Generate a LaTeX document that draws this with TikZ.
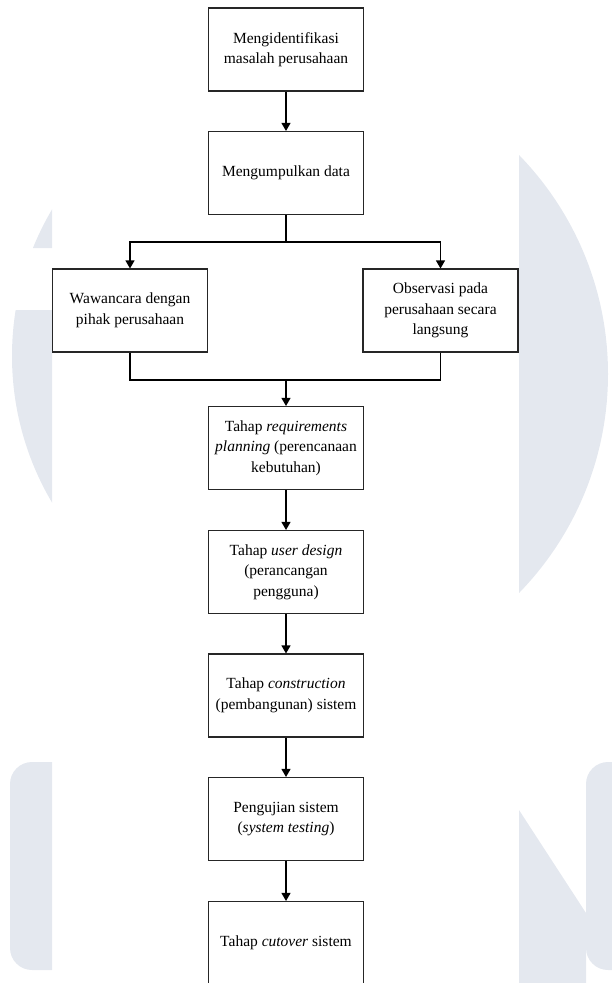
\documentclass[tikz,border=0pt]{standalone}
\usepackage{fontspec}
\setmainfont{Liberation Serif}
\usetikzlibrary{arrows.meta}
\definecolor{wm}{RGB}{228,232,239}
\begin{document}
\begin{tikzpicture}[x=1pt,y=-1pt,
  box/.style={draw=black!85, line width=1.1pt, fill=white, minimum width=155pt, minimum height=83pt,
    inner sep=0pt, align=center, font=\fontsize{15.5}{20.5}\selectfont},
  conn/.style={line width=1.1pt, draw=black},
  arr/.style={conn, -{Triangle[length=8pt,width=9pt]}}]
\useasboundingbox (0,0) rectangle (612,983);
% watermark
\begin{scope}
  \clip (519,0) rectangle (612,983);
  \fill[wm] (294,374) circle[radius=314pt];
\end{scope}
\begin{scope}
  \clip (0,0) rectangle (52,248) (0,310) rectangle (52,983);
  \fill[wm] (300,356) circle[radius=288pt];
\end{scope}
\begin{scope}
  \clip (0,0) rectangle (52,983);
  \fill[wm, rounded corners=22pt] (10,762) rectangle (90,970);
\end{scope}
\begin{scope}
  \clip (519,0) rectangle (612,983);
  \fill[wm, rounded corners=22pt] (586,762) rectangle (660,970);
  \fill[wm] (519,810) -- (586,913) -- (586,983) -- (519,983) -- cycle;
\end{scope}
% nodes
\node[box] (b1) at (286,49.5) {Mengidentifikasi\\masalah perusahaan};
\node[box] (b2) at (286,173) {Mengumpulkan data};
\node[box] (l) at (130,310.5) {Wawancara dengan\\pihak perusahaan};
\node[box] (r) at (440.5,310.5) {Observasi pada\\perusahaan secara\\langsung};
\node[box] (b3) at (286,448) {Tahap \textit{requirements}\\\textit{planning} (perencanaan\\kebutuhan)};
\node[box] (b4) at (286,572) {Tahap \textit{user design}\\(perancangan\\pengguna)};
\node[box] (b5) at (286,695.5) {Tahap \textit{construction}\\(pembangunan) sistem};
\node[box] (b6) at (286,819) {Pengujian sistem\\(\textit{system testing})};
\node[box] (b7) at (286,943) {Tahap \textit{cutover} sistem};
% connectors
\coordinate (split) at (286,242);
\coordinate (join) at (286,380);
\draw[arr] (b1) -- (b2);
\draw[conn] (b2.south) -- (split);
\draw[arr] (split) -| (l.north);
\draw[arr] (split) -| (r.north);
\draw[conn] (l.south) |- (join);
\draw[conn] (r.south) |- (join);
\draw[arr] (join) -- (b3.north);
\draw[arr] (b3) -- (b4);
\draw[arr] (b4) -- (b5);
\draw[arr] (b5) -- (b6);
\draw[arr] (b6) -- (b7);
\end{tikzpicture}
\end{document}
